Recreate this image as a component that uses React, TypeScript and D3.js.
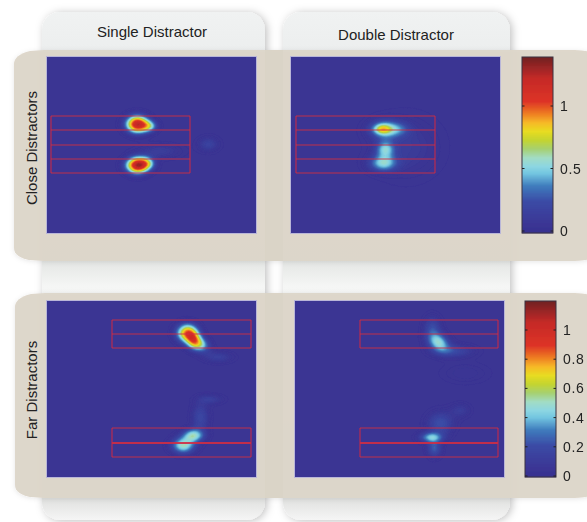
import React from "react";
import * as d3 from "d3";

const W = 587, H = 522;
const columnLabels = ["Single Distractor", "Double Distractor"];
const rowLabels = ["Close Distractors", "Far Distractors"];
const topBarTicks = [0, 0.5, 1];
const bottomBarTicks = [0, 0.2, 0.4, 0.6, 0.8, 1];
const topBarMax = 1.39;
const bottomBarMax = 1.2;

// activity peaks: [x, y, spreadX, spreadY, peak, tilt°]
type Blob = number[];
const closeSingle: Blob[] = [
  [90, 67, 7.5, 5.8, 1.22, 0], [102, 69, 5.5, 4, 0.45, 0],
  [90, 108, 7.5, 5.5, 1.24, 0], [100, 106, 5.5, 4.5, 0.45, 0],
  [161, 87, 7, 5, 0.2, 0], [113, 94, 14, 5, 0.15, 0],
];
const closeDouble: Blob[] = [
  [91, 72, 5.5, 3, 0.33, 0], [93, 72, 10, 6.2, 0.52, 0],
  [92, 106, 9.5, 5.5, 0.5, 0], [94, 92, 6.5, 6, 0.46, 0],
  [115, 90, 22, 20, 0.14, 0], [108, 72, 8, 5, 0.2, 0],
];
const farSingle: Blob[] = [
  [140, 32, 7.2, 6.2, 0.82, 0], [152, 43, 7, 5, 0.5, 25], [146, 39, 5, 6, 0.38, 0],
  [136, 144, 8, 5.5, 0.52, 0], [146, 134, 7.5, 4.5, 0.48, 0],
  [153, 116, 6, 10, 0.2, 0], [163, 98, 9, 3.5, 0.14, 0], [171, 56, 10, 4, 0.15, 0],
];
const farDouble: Blob[] = [
  [143, 41, 8, 6, 0.47, 30], [137, 26, 6, 8, 0.2, 0], [158, 50, 14, 4.5, 0.2, 0],
  [136, 136, 8, 3.5, 0.4, 0], [145, 122, 9, 8, 0.24, 0], [139, 147, 5, 6, 0.26, 0],
  [165, 109, 7, 5, 0.12, 0], [170, 72, 16, 7, 0.08, 0],
];

// box outlines in the panel's units
const closeBox = [59, 73, 88, 102, 116];
const farBoxTop = [19, 33, 47];
const farBoxBottom = [127, 142, 156];

const stopAt = [0, 0.05, 0.18, 0.27, 0.34, 0.38, 0.43, 0.48, 0.53, 0.58, 0.63, 0.68, 0.75, 0.88, 0.96, 1];
const stopColor = ["#38318f", "#3a3594", "#3a4aa5", "#3f7cbd", "#72c5e0", "#8cd6e2", "#a2dcc4", "#a6d070", "#c4d430", "#e8dc20", "#f6b828", "#ee7d22", "#dd3326", "#c52a28", "#8e2424", "#702020"];
const ramp = d3.scaleLinear<string>().domain(stopAt).range(stopColor).interpolate(d3.interpolateRgb);

const DX = 209, DY = 176;

function Heat({ x0, y0, blobs, vmax, boxX, lines, heavy }: { x0: number; y0: number; blobs: Blob[]; vmax: number; boxX: number[]; lines: number[][]; heavy: number[] }) {
  const sx = d3.scaleLinear().domain([0, DX]).range([x0, x0 + DX]);
  const sy = d3.scaleLinear().domain([0, DY]).range([y0, y0 + DY]);
  const step = 1.5;
  const n = Math.round(DX / step) + 1, m = Math.round(DY / step) + 1;
  const vals = new Array(n * m);
  for (let j = 0; j < m; j++) for (let i = 0; i < n; i++) {
    const px = i * step, py = j * step;
    let v = 0;
    for (const [cx, cy, a, b, p, t] of blobs) {
      const r = (t * Math.PI) / 180;
      const u = (px - cx) * Math.cos(r) + (py - cy) * Math.sin(r);
      const w = -(px - cx) * Math.sin(r) + (py - cy) * Math.cos(r);
      v += p * Math.exp(-0.5 * (u * u / (a * a) + w * w / (b * b)));
    }
    vals[j * n + i] = v;
  }
  const thresholds = d3.range(0.02, vmax, vmax / 60);
  const contours = d3.contours().size([n, m]).thresholds(thresholds)(vals);
  const tr = d3.geoTransform({
    point(x, y) { this.stream.point(sx((x - 0.5) * (DX / (n - 1))), sy((y - 0.5) * (DY / (m - 1)))); },
  });
  const path = d3.geoPath(tr);
  return (
    <g>
      <rect x={x0 - 0.5} y={y0 - 0.5} width={DX + 1} height={DY + 1} fill="none" stroke="#b9b6d8" strokeWidth={1} />
      <rect x={x0} y={y0} width={DX} height={DY} fill={ramp(0.04)} />
      <g clipPath={`url(#clip${x0}${y0})`}>
        {contours.map((c, i) => {
          const col = ramp(Math.max(0.04, c.value / vmax));
          return <path key={i} d={path(c as any) || ""} fill={col} stroke={col} strokeWidth={0.3} />;
        })}
      </g>
      <clipPath id={`clip${x0}${y0}`}><rect x={x0} y={y0} width={DX} height={DY} /></clipPath>
      {lines.map((ys, k) => (
        <g key={k}>
          {ys.map((y, i) => (
            <line key={i} x1={sx(boxX[0])} x2={sx(boxX[1])} y1={sy(y)} y2={sy(y)} stroke="#d02c44" strokeOpacity={0.9} strokeWidth={heavy.includes(y) ? 1.8 : 1.2} />
          ))}
          {[boxX[0], boxX[1]].map((x, i) => (
            <line key={i} x1={sx(x)} x2={sx(x)} y1={sy(ys[0])} y2={sy(ys[ys.length - 1])} stroke="#d02c44" strokeOpacity={0.85} strokeWidth={1.2} />
          ))}
        </g>
      ))}
    </g>
  );
}

function Bar({ x, y0, h, vmax, ticks, zeroY, unit }: { x: number; y0: number; h: number; vmax: number; ticks: number[]; zeroY: number; unit: number }) {
  const w = 31;
  const rows = d3.range(0, h, 1);
  const sv = d3.scaleLinear().domain([0, vmax]).range([zeroY, zeroY - vmax * unit]);
  return (
    <g>
      {rows.map((r) => (
        <rect key={r} x={x} y={y0 + r} width={w} height={1.3} fill={ramp(1 - r / h)} />
      ))}
      <rect x={x} y={y0} width={w} height={h} fill="none" stroke="#3a3340" strokeWidth={1} />
      {ticks.map((t) => (
        <g key={t}>
          <line x1={x} x2={x + 2.5} y1={sv(t)} y2={sv(t)} stroke="#222" />
          <line x1={x + w - 2.5} x2={x + w} y1={sv(t)} y2={sv(t)} stroke="#222" />
          <text x={x + w + 7} y={sv(t) + 5} fontSize={14} letterSpacing={0.6} fill="#222">{t}</text>
        </g>
      ))}
    </g>
  );
}

function bandPath(x0: number, x1: number, y0: number, y1: number) {
  return `M${x0},${y0 + 14} Q${x0},${y0 + 5} ${x0 + 16},${y0 + 1} L${x0 + 30},${y0} L${x1 - 25},${y0} Q${x1 - 6},${y0 + 1} ${x1},${y0 + 6} L${x1},${y1 - 6} Q${x1 - 6},${y1 - 1} ${x1 - 25},${y1} L${x0 + 30},${y1} L${x0 + 16},${y1 - 1} Q${x0},${y1 - 4} ${x0},${y1 - 13} Z`;
}

export default function App() {
  const cols = [[42, 265], [283, 510]];
  return (
    <svg width={W} height={H} style={{ position: "absolute", left: 0, top: 0, fontFamily: "'Liberation Sans', Arial, sans-serif" }}>
      <defs>
        <filter id="sh" x="-20%" y="-10%" width="140%" height="120%">
          <feDropShadow dx={2} dy={1} stdDeviation={4} floodColor="#000" floodOpacity={0.25} />
        </filter>
        <filter id="sh2" x="-5%" y="-10%" width="110%" height="120%">
          <feDropShadow dx={0} dy={1} stdDeviation={2.5} floodColor="#000" floodOpacity={0.1} />
        </filter>
        <linearGradient id="tab" x1="0" x2="0" y1="0" y2="1">
          <stop offset="0" stopColor="#f0f2f2" />
          <stop offset="0.08" stopColor="#eceeee" />
          <stop offset="0.49" stopColor="#e4e6e4" />
          <stop offset="0.54" stopColor="#f5f6f5" />
          <stop offset="0.95" stopColor="#dcdddb" />
          <stop offset="1" stopColor="#f5f5f5" />
        </linearGradient>
        <filter id="soft" x="-2%" y="-2%" width="104%" height="104%">
          <feGaussianBlur stdDeviation={0.45} />
        </filter>
      </defs>
      <rect width={W} height={H} fill="#fff" />
      {cols.map(([a, b], i) => (
        <rect key={i} x={a} y={12} width={b - a} height={508} rx={18} fill="url(#tab)" filter="url(#sh)" />
      ))}
      <path d={bandPath(14, 600, 50, 261)} fill="#ddd6c9" fillOpacity={0.97} filter="url(#sh2)" />
      <path d={bandPath(15, 600, 293, 498)} fill="#ddd6c9" fillOpacity={0.97} filter="url(#sh2)" />
      <rect x={265} y={50} width={18} height={211} fill="#d8d1c4" fillOpacity={0.5} />
      <rect x={265} y={293} width={18} height={205} fill="#d8d1c4" fillOpacity={0.5} />
      <g filter="url(#soft)">
        <Heat x0={47} y0={57} blobs={closeSingle} vmax={topBarMax} boxX={[4, 143]} lines={[closeBox]} heavy={[]} />
        <Heat x0={291} y0={57} blobs={closeDouble} vmax={topBarMax} boxX={[5, 144]} lines={[closeBox]} heavy={[]} />
        <Heat x0={47} y0={301} blobs={farSingle} vmax={bottomBarMax} boxX={[65, 204]} lines={[farBoxTop, farBoxBottom]} heavy={[142]} />
        <Heat x0={295} y0={301} blobs={farDouble} vmax={bottomBarMax} boxX={[65, 203]} lines={[farBoxTop, farBoxBottom]} heavy={[142]} />
        <Bar x={522} y0={57} h={176} vmax={topBarMax} ticks={topBarTicks} zeroY={231} unit={125} />
        <Bar x={525} y0={301} h={176} vmax={bottomBarMax} ticks={bottomBarTicks} zeroY={476} unit={146} />
      </g>
      <g fill="#222" fontSize={15} textAnchor="middle">
        <text x={152} y={37}>{columnLabels[0]}</text>
        <text x={396} y={40}>{columnLabels[1]}</text>
        <text transform="translate(37,148) rotate(-90)">{rowLabels[0]}</text>
        <text transform="translate(37,390) rotate(-90)">{rowLabels[1]}</text>
      </g>
    </svg>
  );
}
